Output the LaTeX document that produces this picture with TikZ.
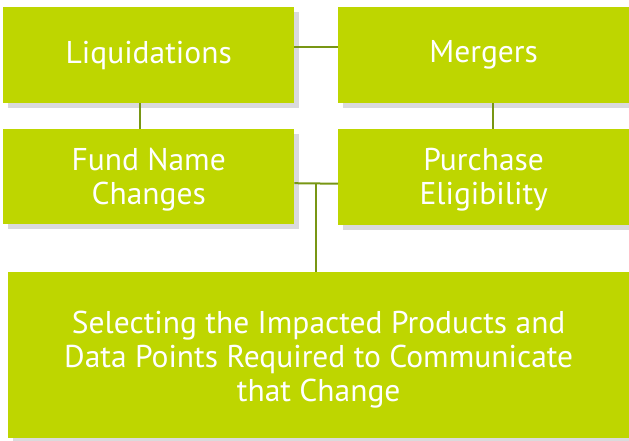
\documentclass[tikz,border=0pt]{standalone}
\usepackage{fontspec}
\setmainfont{PT Sans}
\usetikzlibrary{shadows}
\definecolor{boxgreen}{RGB}{190,214,0}
\definecolor{shadowgray}{RGB}{218,218,220}
\definecolor{linegreen}{RGB}{120,150,20}
\begin{document}
\begin{tikzpicture}[x=1pt,y=-1pt,
  box/.style={fill=boxgreen, text=white, align=center, inner sep=0pt, anchor=north west,
    font=\fontsize{31.5}{34}\selectfont,
    general shadow={fill=shadowgray, shadow xshift=5pt, shadow yshift=-5pt}},
  conn/.style={draw=linegreen, line width=2pt}]
\useasboundingbox (0,0) rectangle (629,440);
\node[box, minimum width=291pt, minimum height=96pt] (liq) at (3,7) {Liquidations};
\node[box, minimum width=291pt, minimum height=96pt] (mer) at (338,7) {Mergers};
\node[box, minimum width=291pt, minimum height=95pt] (fund) at (3,129) {\rule{0pt}{28pt}Fund Name\\Changes};
\node[box, minimum width=291pt, minimum height=96pt] (pur) at (338,129) {\rule{0pt}{28pt}Purchase\\Eligibility};
\node[box, minimum width=621pt, minimum height=166pt] (sel) at (8,272) {\rule{0pt}{31pt}Selecting the Impacted Products and\\Data Points Required to Communicate\\that Change};
\coordinate (j) at (315.7,183.3);
\draw[conn] ([yshift=8.5pt]liq.east) -- ([yshift=8.5pt]mer.west);
\draw[conn] ([xshift=-8.5pt]liq.south) -- ([xshift=-8.5pt]fund.north);
\draw[conn] ([xshift=9pt]mer.south) -- ([xshift=9pt]pur.north);
\draw[conn] ([yshift=-6.5pt]fund.east) -- ([yshift=-6.5pt]pur.west);
\draw[conn] (j) -- (j |- sel.north);
\end{tikzpicture}
\end{document}
